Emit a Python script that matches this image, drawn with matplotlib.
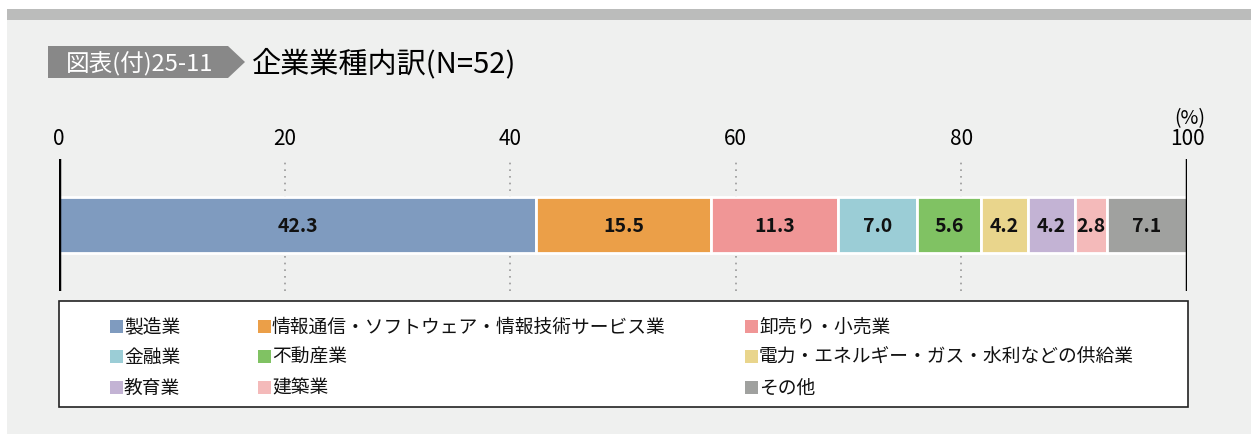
import matplotlib
matplotlib.use("Agg")
import matplotlib.pyplot as plt
from matplotlib.patches import Rectangle, Polygon

plt.rcParams['font.family'] = ['Noto Sans CJK JP', 'DejaVu Sans']

# data
categories = ['製造業', '情報通信・ソフトウェア・情報技術サービス業', '卸売り・小売業',
              '金融業', '不動産業', '電力・エネルギー・ガス・水利などの供給業',
              '教育業', '建築業', 'その他']
values = [42.3, 15.5, 11.3, 7.0, 5.6, 4.2, 4.2, 2.8, 7.1]
colors = ['#7f9bbf', '#eb9f48', '#f09696', '#9bcdd6', '#80c263',
          '#e9d58c', '#c3b3d4', '#f4baba', '#a0a19f']
ticks = [0, 20, 40, 60, 80, 100]

W, H = 1251, 435
fig = plt.figure(figsize=(W / 100, H / 100), dpi=100)
fig.patch.set_facecolor('white')


def fx(px):
    return px / W


def fy(py):
    return 1 - py / H


# background panel and top stripe
fig.patches.append(Rectangle((fx(7), 0), 1 - fx(7), fy(10), transform=fig.transFigure,
                             facecolor='#eff0ef', edgecolor='none', zorder=-2))
fig.patches.append(Rectangle((fx(7), fy(21)), 1 - fx(7), fy(10) - fy(21),
                             transform=fig.transFigure, facecolor='#bbbcbb',
                             edgecolor='none', zorder=-1))

# title tag
tag = [(fx(48), fy(47)), (fx(228), fy(47)), (fx(245), fy(63)),
       (fx(228), fy(79)), (fx(48), fy(79))]
fig.patches.append(Polygon(tag, closed=True, transform=fig.transFigure,
                           facecolor='#888888', edgecolor='none', zorder=1))
fig.text(fx(140), fy(64), '図表(付)25-11', color='white', fontsize=17,
         ha='center', va='center')
fig.text(fx(252), fy(64), '企業業種内訳(N=52)', color='black', fontsize=21,
         ha='left', va='center')

# bar axes
ax = fig.add_axes([fx(59), fy(292), fx(1187) - fx(59), fy(160) - fy(292)])
ax.set_zorder(2)
ax.set_xlim(0, 100)
ax.set_ylim(-1, 1)
ax.patch.set_alpha(0)
for s in ax.spines.values():
    s.set_visible(False)

for t in ticks[1:-1]:
    ax.axvline(t, color='#999999', linestyle=(0, (1, 3)), linewidth=1.2, zorder=1)

left = 0
for v, c in zip(values, colors):
    ax.barh(0, v, left=left, height=0.84, color=c, edgecolor='white',
            linewidth=2, zorder=2)
    ax.text(left + v / 2, 0, f'{v:.1f}', ha='center', va='center',
            fontsize=14, fontweight='bold', color='#111111', zorder=3)
    left += v

ax.axvline(0, color='black', linewidth=2.5, zorder=4)
ax.axvline(100, color='black', linewidth=2.5, zorder=4)

ax.xaxis.set_ticks_position('top')
ax.set_xticks(ticks)
ax.set_xticklabels([str(t) for t in ticks], fontsize=15)
ax.tick_params(axis='x', length=0, pad=7)
ax.set_yticks([])
fig.text(fx(1190), fy(119), '(%)', fontsize=14, ha='center', va='center')

# legend box
fig.patches.append(Rectangle((fx(59), fy(408)), fx(1188) - fx(59), fy(302) - fy(408),
                             transform=fig.transFigure, facecolor='white',
                             edgecolor='#222222', linewidth=1.2, zorder=1))
col_x = [110, 258, 745]
row_y = [327, 357, 388]
for i, (name, c) in enumerate(zip(categories, colors)):
    px = col_x[i % 3]
    py = row_y[i // 3]
    fig.patches.append(Rectangle((fx(px), fy(py + 7)), fx(13), fy(py - 6) - fy(py + 7),
                                 transform=fig.transFigure, facecolor=c,
                                 edgecolor='none', zorder=2))
    fig.text(fx(px + 14), fy(py), name, fontsize=13.5, ha='left', va='center',
             color='#111111')

fig.savefig('out.png', dpi=100, facecolor=fig.get_facecolor())
